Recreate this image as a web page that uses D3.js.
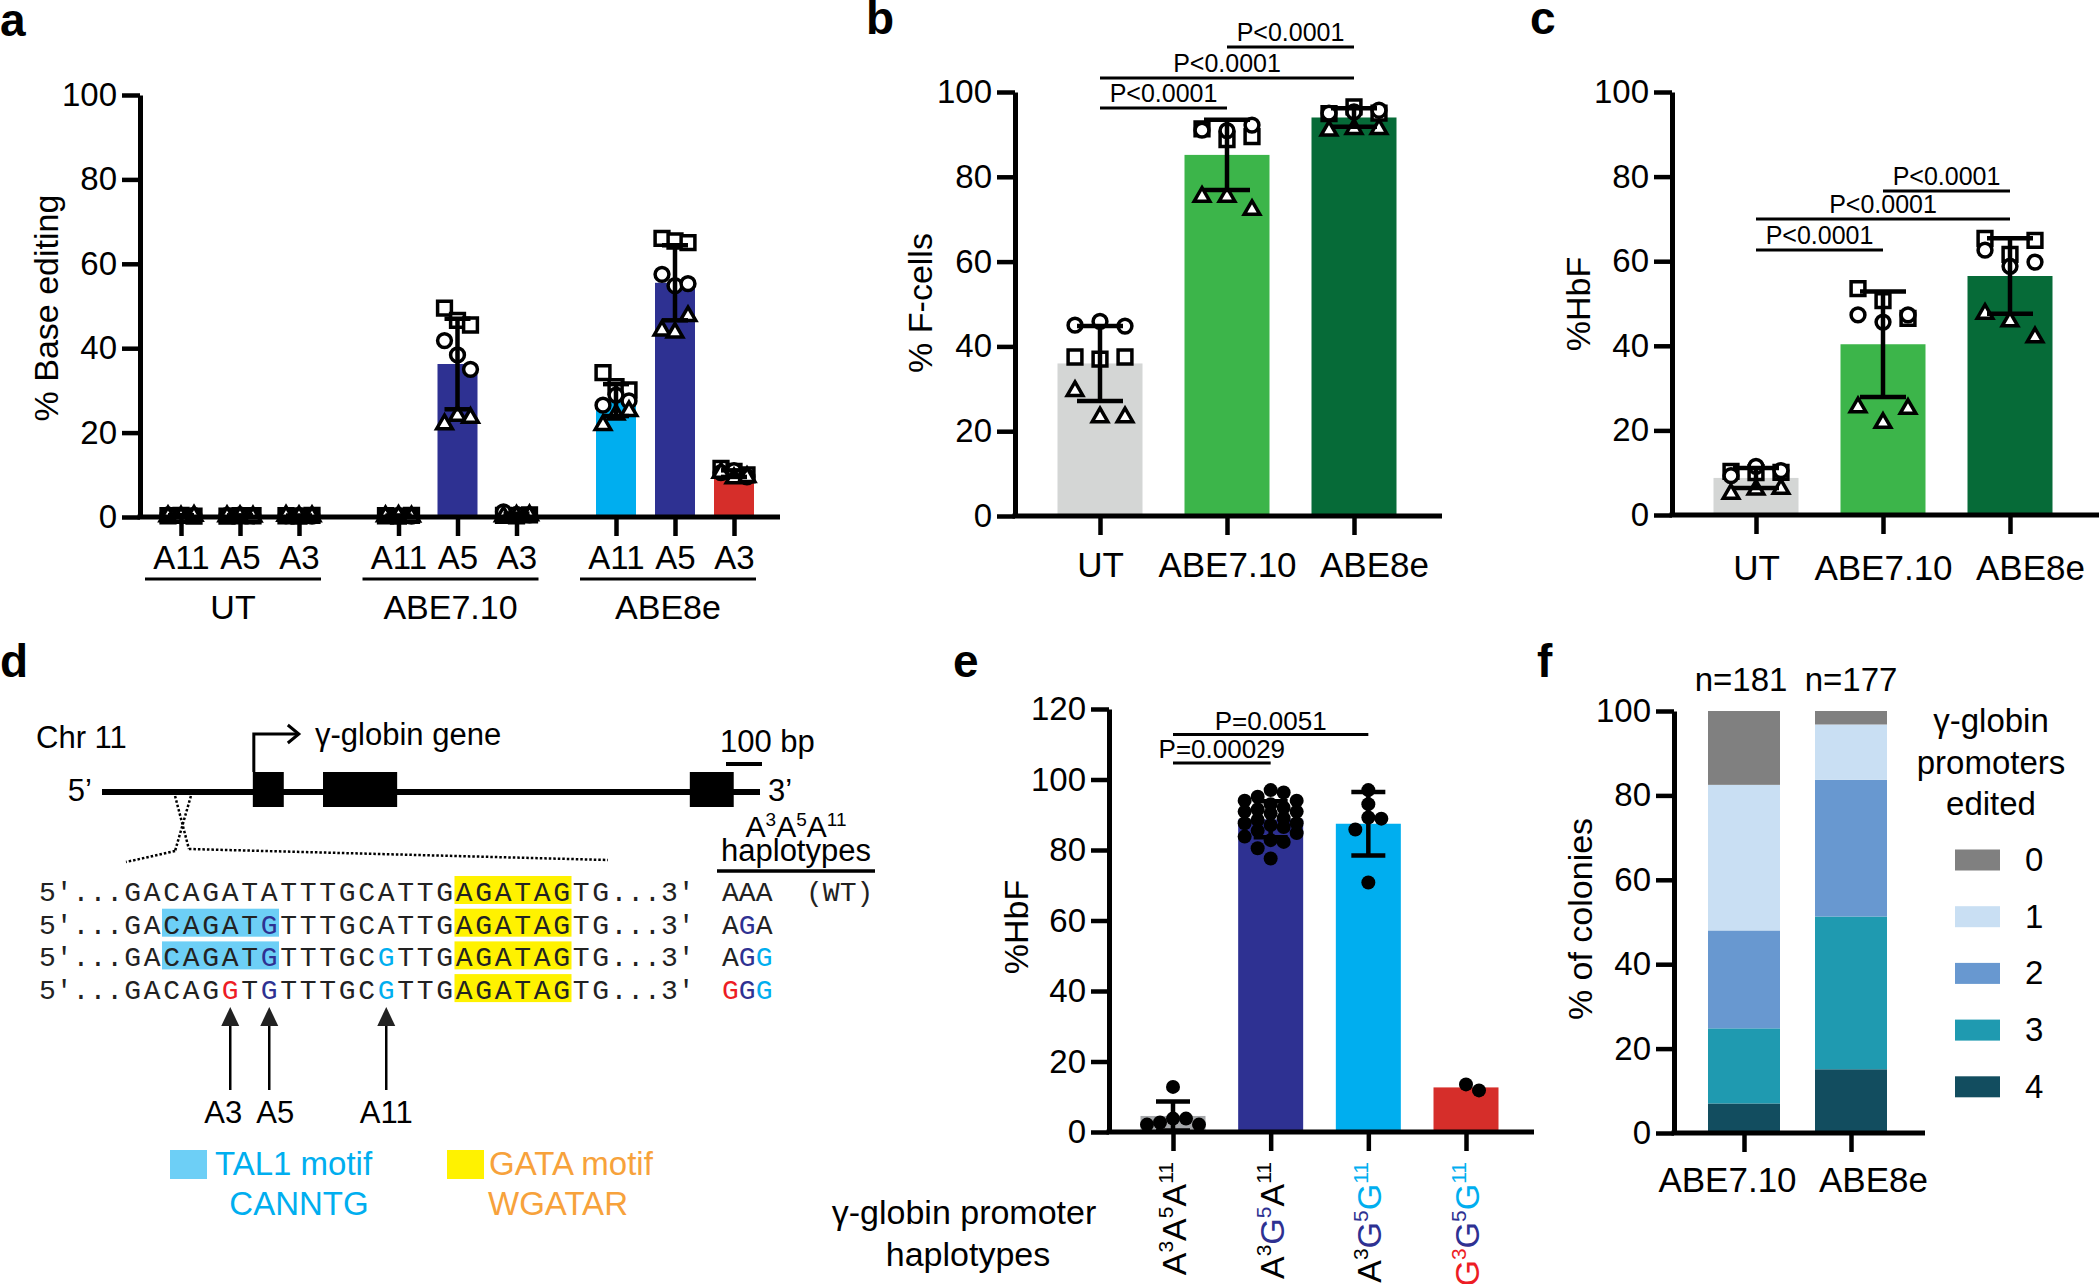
<!DOCTYPE html>
<html><head><meta charset="utf-8">
<script src="https://cdn.jsdelivr.net/npm/d3@7"></script>
<style>
body{margin:0;background:#fff}
svg{display:block}
</style>
</head><body>
<svg id="fig" width="2100" height="1284"></svg>
<script>
// ================= DATA =================
// Panel a: % base editing, [group][site] -> 3 replicate values per donor shape
const aGroups = ["UT", "ABE7.10", "ABE8e"];
const aSites = ["A11", "A5", "A3"];
const aSquares = [
  [[0.3, 0.4, 0.2], [0.2, 0.3, 0.3], [0.3, 0.2, 0.4]],
  [[0.3, 0.2, 0.4], [49.5, 46.6, 45.5], [0.4, 0.3, 0.5]],
  [[34.2, 30.9, 30.1], [66.0, 65.4, 65.0], [11.5, 10.8, 10.0]]
];
const aCircles = [
  [[0.5, 0.3, 0.4], [0.4, 0.5, 0.3], [0.3, 0.4, 0.2]],
  [[0.4, 0.3, 0.2], [41.8, 38.4, 35.0], [1.2, 0.6, 0.5]],
  [[26.5, 28.9, 27.5], [57.5, 54.8, 55.3], [10.5, 11.0, 9.5]]
];
const aTriangles = [
  [[0.2, 0.1, 0.3], [0.2, 0.2, 0.1], [0.3, 0.2, 0.2]],
  [[0.2, 0.3, 0.1], [22.0, 24.0, 23.5], [0.2, 0.3, 0.4]],
  [[21.8, 24.3, 25.1], [44.2, 43.7, 47.6], [10.5, 9.2, 9.5]]
];

// Panels b and c
const bcGroups = ["UT", "ABE7.10", "ABE8e"];
const bCircles = [[45.0, 45.9, 44.8], [91.0, 90.9, 92.2], [95.0, 95.3, 95.7]];
const bSquares = [[37.5, 37.0, 37.5], [91.3, 88.8, 89.5], [94.9, 96.5, 95.0]];
const bTriangles = [[29.5, 23.3, 23.3], [75.3, 75.3, 72.2], [90.9, 91.3, 91.3]];
const bComparisons = [["UT", "ABE7.10", "P<0.0001"], ["UT", "ABE8e", "P<0.0001"], ["ABE7.10", "ABE8e", "P<0.0001"]];

const cCircles = [[9.3, 11.5, 10.5], [47.3, 45.6, 47.3], [62.6, 58.8, 59.8]];
const cSquares = [[10.3, 10.0, 10.1], [53.5, 50.7, 46.5], [65.4, 61.6, 64.9]];
const cTriangles = [[5.0, 6.0, 6.2], [25.5, 21.8, 25.1], [47.6, 45.8, 42.0]];
const cComparisons = [["UT", "ABE7.10", "P<0.0001"], ["UT", "ABE8e", "P<0.0001"], ["ABE7.10", "ABE8e", "P<0.0001"]];

// Panel e: %HbF per colony haplotype
const eHaplotypes = ["A3A5A11", "A3G5A11", "A3G5G11", "G3G5G11"];
const eA3A5A11 = [12.8, 2.7, 3.8, 3.8, 2.1, 2.1];
const eA3G5A11 = [97.0, 96.3, 95.1, 94.0, 94.0, 93.0, 92.0, 90.9, 90.4, 90.9, 88.5, 87.6,
                  87.1, 87.6, 86.5, 85.5, 84.8, 83.8, 82.8, 82.3, 80.5, 77.6, 89.0, 91.5];
const eA3G5G11 = [89.2, 97.0, 93.0, 85.8, 88.9, 70.8];
const eG3G5G11 = [11.8, 13.5];
const eComparisons = [["A3A5A11", "A3G5A11", "P=0.00029"], ["A3A5A11", "A3G5G11", "P=0.0051"]];

// Panel f: % of colonies by number of edited promoters
const fEditors = ["ABE7.10", "ABE8e"];
const fN = [181, 177];
const fPromotersEdited = ["0", "1", "2", "3", "4"];
const fPct0 = [17.5, 3.2];
const fPct1 = [34.5, 13.1];
const fPct2 = [23.2, 32.4];
const fPct3 = [17.8, 36.2];
const fPct4 = [7.0, 15.1];

const yTicks100 = [0, 20, 40, 60, 80, 100];
const yTicks120 = [0, 20, 40, 60, 80, 100, 120];

// Panel d: gene model and promoter sequences
const dGeneLengthBp = 1828;
const dExonsBp = [[419, 505], [614, 820], [1633, 1755]];
const dZoomBp = [203, 247];
const dScaleBarBp = 100;
const dSeqRows = [
  "GACAGATATTTGCATTGAGATAGTG",
  "GACAGATGTTTGCATTGAGATAGTG",
  "GACAGATGTTTGCGTTGAGATAGTG",
  "GACAGGTGTTTGCGTTGAGATAGTG"
];
const dHaplotypes = ["AAA", "AGA", "AGG", "GGG"];
const dHaplotypeNotes = ["(WT)", "", "", ""];
const dEditSites = [{name: "A3", index: 5}, {name: "A5", index: 7}, {name: "A11", index: 13}];
const dTal1Rows = [false, true, true, false];
const dTal1Span = [2, 8];
const dGataSpan = [17, 23];

// ================= STYLE =================
const FONT = '"Liberation Sans", Arial, Helvetica, sans-serif';
const MONO = '"Liberation Mono", "DejaVu Sans Mono", monospace';
const NAVY = "#2e3192", CYAN = "#00aeef", RED = "#d62e2a", REDTXT = "#ed1c24";
const siteColor = {"3": REDTXT, "5": NAVY, "11": CYAN, "A3": REDTXT, "A5": NAVY, "A11": CYAN};

const svg = d3.select("#fig").attr("font-family", FONT);

function label(txt, x, y) {
  svg.append("text").attr("x", x).attr("y", y).attr("font-size", 46).attr("font-weight", "bold").text(txt);
}

function yAxis(g, y, x, ticks) {
  const ax = g.append("g").attr("transform", `translate(${x},0)`)
    .call(d3.axisLeft(y).tickValues(ticks).tickSize(18).tickSizeOuter(0).tickPadding(5));
  ax.select(".domain").attr("stroke", "#000").attr("stroke-width", 5);
  ax.selectAll(".tick line").attr("stroke", "#000").attr("stroke-width", 4.5);
  ax.selectAll(".tick text").attr("font-size", 33).attr("fill", "#000").attr("font-family", FONT);
  return ax;
}
function xLine(g, x0, x1, y0) {
  g.append("line").attr("x1", x0 - 2.5).attr("x2", x1).attr("y1", y0).attr("y2", y0)
    .attr("stroke", "#000").attr("stroke-width", 5);
}
function xAxis(g, scale, y0, fmt, pad, fs) {
  const ax = g.append("g").attr("transform", `translate(0,${y0})`)
    .call(d3.axisBottom(scale).tickSize(19).tickSizeOuter(0).tickPadding(pad).tickFormat(fmt || (d => d)));
  ax.select(".domain").remove();
  ax.selectAll(".tick line").attr("stroke", "#000").attr("stroke-width", 4.5);
  if (fmt === null) ax.selectAll(".tick text").remove();
  else ax.selectAll(".tick text").attr("font-size", fs).attr("fill", "#000").attr("font-family", FONT);
  return ax;
}
function yTitle(g, txt, x, y) {
  g.append("text").attr("transform", `translate(${x},${y}) rotate(-90)`)
    .attr("text-anchor", "middle").attr("font-size", 34).text(txt);
}
function errBar(g, x, y, m, sd, hw) {
  const lo = Math.max(0, m - sd), hi = m + sd;
  g.append("line").attr("x1", x).attr("x2", x).attr("y1", y(lo)).attr("y2", y(hi))
    .attr("stroke", "#000").attr("stroke-width", 4.5);
  [lo, hi].forEach(v => g.append("line").attr("x1", x - hw).attr("x2", x + hw)
    .attr("y1", y(v)).attr("y2", y(v)).attr("stroke", "#000").attr("stroke-width", 4.5));
}
const SHAPES = [
  {type: d3.symbolSquare, size: 190},
  {type: d3.symbolCircle, size: 150},
  {type: d3.symbolTriangle, size: 105}
];
function shapes(g, xc, y, sets, step) {
  sets.forEach((vals, si) => {
    vals.forEach((v, i) => {
      g.append("path").attr("d", d3.symbol().type(SHAPES[si].type).size(SHAPES[si].size)())
        .attr("transform", `translate(${xc + (i - 1) * step},${y(v)})`)
        .attr("fill", "#fff").attr("stroke", "#000").attr("stroke-width", 3.5);
    });
  });
}
function bracket(g, x0, x1, yy, txt, fs, off) {
  g.append("line").attr("x1", x0).attr("x2", x1).attr("y1", yy).attr("y2", yy)
    .attr("stroke", "#000").attr("stroke-width", 3);
  g.append("text").attr("x", (x0 + x1) / 2).attr("y", yy - off).attr("text-anchor", "middle")
    .attr("font-size", fs).text(txt);
}
// haplotype name such as "A3G5G11" -> letters with superscript positions; G coloured by site
function haploText(t, name, fs, fsSup, colourise) {
  const parts = [...name.matchAll(/([AG])(\d+)/g)];
  const rise = fs * 0.38;
  parts.forEach((p, k) => {
    const col = (colourise && p[1] === "G") ? siteColor[p[2]] : "#000";
    t.append("tspan").attr("fill", col).attr("font-size", fs).attr("dy", k === 0 ? 0 : rise).text(p[1]);
    t.append("tspan").attr("fill", col).attr("font-size", fsSup).attr("dy", -rise).text(p[2]);
  });
  return t;
}

// ================= PANEL a =================
(function () {
  const g = svg.append("g");
  const y = d3.scaleLinear([0, 100], [517, 95]);
  const gx = d3.scalePoint(aGroups, [240, 675]);
  const sx = d3.scalePoint(aSites, [-59, 59]);
  const keys = [], pos = [];
  aGroups.forEach(gr => aSites.forEach(s => { keys.push(gr + "|" + s); pos.push(gx(gr) + sx(s)); }));
  const x = d3.scaleOrdinal(keys, pos);
  const siteFill = {A11: CYAN, A5: NAVY, A3: RED};
  const bw = 40;

  aGroups.forEach((gr, gi) => aSites.forEach((s, si) => {
    const all = [...aSquares[gi][si], ...aCircles[gi][si], ...aTriangles[gi][si]];
    const m = d3.mean(all);
    g.append("rect").attr("x", x(gr + "|" + s) - bw / 2).attr("y", y(m)).attr("width", bw)
      .attr("height", y(0) - y(m)).attr("fill", siteFill[s]);
  }));
  aGroups.forEach((gr, gi) => aSites.forEach((s, si) => {
    shapes(g, x(gr + "|" + s), y, [aSquares[gi][si], aCircles[gi][si], aTriangles[gi][si]], 13);
  }));
  aGroups.forEach((gr, gi) => aSites.forEach((s, si) => {
    const all = [...aSquares[gi][si], ...aCircles[gi][si], ...aTriangles[gi][si]];
    errBar(g, x(gr + "|" + s), y, d3.mean(all), d3.deviation(all), 13);
  }));

  yAxis(g, y, 140, yTicks100);
  xLine(g, 140, 780, 517);
  xAxis(g, x, 517, d => d.split("|")[1], 10, 33);
  aGroups.forEach(gr => {
    const c = gx(gr) - 7;
    g.append("line").attr("x1", c - 88).attr("x2", c + 88).attr("y1", 579).attr("y2", 579)
      .attr("stroke", "#000").attr("stroke-width", 3);
    g.append("text").attr("x", c).attr("y", 619).attr("text-anchor", "middle").attr("font-size", 34).text(gr);
  });
  yTitle(g, "% Base editing", 58, 308);
  label("a", 0, 36);
})();

// ================= PANELS b, c =================
function panelBC(opts) {
  const g = svg.append("g");
  const y = d3.scaleLinear([0, 100], [opts.y0, opts.y100]);
  const x = d3.scalePoint(bcGroups, opts.xr);
  const fills = ["#d4d6d5", "#3cb54a", "#066b38"];
  const bw = 85;
  bcGroups.forEach((gr, i) => {
    const all = [...opts.sq[i], ...opts.ci[i], ...opts.tr[i]];
    const m = d3.mean(all);
    g.append("rect").attr("x", x(gr) - bw / 2).attr("y", y(m)).attr("width", bw)
      .attr("height", y(0) - y(m)).attr("fill", fills[i]);
  });
  bcGroups.forEach((gr, i) => shapes(g, x(gr), y, [opts.sq[i], opts.ci[i], opts.tr[i]], 25));
  bcGroups.forEach((gr, i) => {
    const all = [...opts.sq[i], ...opts.ci[i], ...opts.tr[i]];
    errBar(g, x(gr), y, d3.mean(all), d3.deviation(all), 23);
  });
  yAxis(g, y, opts.ax, yTicks100);
  xLine(g, opts.ax, opts.xEnd, opts.y0);
  const xa = xAxis(g, x, opts.y0, d => d, opts.pad, 35);
  xa.selectAll(".tick text").attr("dx", (d, i) => i === 2 ? 20 : 0);
  opts.comps.forEach((c, i) => bracket(g, x(c[0]), x(c[1]), opts.levels[i], c[2], 25, 6));
  yTitle(g, opts.title, opts.tx, opts.ty);
  label(opts.letter, opts.lx, 34);
}
panelBC({y0: 516, y100: 92, xr: [1100, 1354], ax: 1015, xEnd: 1442, pad: 17,
  sq: bSquares, ci: bCircles, tr: bTriangles, comps: bComparisons, levels: [108, 78, 47],
  title: "% F-cells", tx: 932, ty: 303, letter: "b", lx: 866});
panelBC({y0: 515, y100: 92, xr: [1756, 2010], ax: 1672, xEnd: 2099, pad: 21,
  sq: cSquares, ci: cCircles, tr: cTriangles, comps: cComparisons, levels: [250, 219, 191],
  title: "%HbF", tx: 1590, ty: 304, letter: "c", lx: 1530});

// ================= PANEL d =================
(function () {
  const g = svg.append("g").attr("font-family", FONT);
  const bp = d3.scaleLinear([0, dGeneLengthBp], [102, 760]);
  const lineY = 792;
  g.append("text").attr("x", 36).attr("y", 748).attr("font-size", 31).text("Chr 11");
  g.append("line").attr("x1", bp(0)).attr("x2", bp(dGeneLengthBp)).attr("y1", lineY).attr("y2", lineY)
    .attr("stroke", "#000").attr("stroke-width", 6);
  dExonsBp.forEach(e => g.append("rect").attr("x", bp(e[0])).attr("y", lineY - 20)
    .attr("width", bp(e[1]) - bp(e[0])).attr("height", 35).attr("fill", "#000"));
  g.append("text").attr("x", 92).attr("y", 801).attr("text-anchor", "end").attr("font-size", 31).text("5’");
  g.append("text").attr("x", 768).attr("y", 801).attr("font-size", 31).text("3’");
  // promoter arrow
  const ax0 = bp(dExonsBp[0][0]) + 1;
  g.append("path").attr("d", `M${ax0},${lineY - 20}V734H${ax0 + 44}`).attr("fill", "none")
    .attr("stroke", "#000").attr("stroke-width", 3);
  g.append("path").attr("d", `M${ax0 + 34},725L${ax0 + 45},734L${ax0 + 34},743`).attr("fill", "none")
    .attr("stroke", "#000").attr("stroke-width", 3);
  g.append("text").attr("x", 315).attr("y", 745).attr("font-size", 31).text("γ-globin gene");
  // scale bar
  g.append("text").attr("x", 720).attr("y", 752).attr("font-size", 31).text("100 bp");
  g.append("line").attr("x1", 726).attr("x2", 726 + bp(dScaleBarBp) - bp(0)).attr("y1", 764).attr("y2", 764)
    .attr("stroke", "#000").attr("stroke-width", 4);
  // zoom dotted lines
  const zx0 = bp(dZoomBp[0]), zx1 = bp(dZoomBp[1]);
  const dl = (x1, y1, x2, y2) => g.append("line").attr("x1", x1).attr("y1", y1).attr("x2", x2).attr("y2", y2)
    .attr("stroke", "#000").attr("stroke-width", 2.5).attr("stroke-dasharray", "2.5,2");
  dl(zx0, 796, zx1 - 2, 849);
  dl(zx1, 796, zx0, 851);
  dl(zx0, 851, 126, 862);
  dl(zx1 - 2, 849, 608, 860);

  // sequences
  const x0 = 123, cw = 19.5, base0 = 901, rowH = 32.7;
  const sx = i => x0 + i * cw;
  dSeqRows.forEach((row, r) => {
    const by = base0 + r * rowH;
    if (dTal1Rows[r]) g.append("rect").attr("x", sx(dTal1Span[0])).attr("y", by - 25)
      .attr("width", sx(dTal1Span[1]) - sx(dTal1Span[0])).attr("height", 28).attr("fill", "#6dcff6");
    g.append("rect").attr("x", sx(dGataSpan[0])).attr("y", by - 25)
      .attr("width", sx(dGataSpan[1]) - sx(dGataSpan[0])).attr("height", 28).attr("fill", "#fff200");
    g.append("text").attr("x", x0).attr("y", by).attr("text-anchor", "end").attr("font-family", MONO)
      .attr("font-size", 28).attr("fill", "#222").text("5′...");
    row.split("").forEach((ch, i) => {
      const site = dEditSites.find(s => s.index === i);
      const col = (site && ch === "G") ? siteColor[site.name] : "#222";
      g.append("text").attr("x", sx(i) + cw / 2).attr("y", by).attr("text-anchor", "middle")
        .attr("font-family", MONO).attr("font-size", 28).attr("fill", col).text(ch);
    });
    g.append("text").attr("x", sx(row.length)).attr("y", by).attr("font-family", MONO)
      .attr("font-size", 28).attr("fill", "#222").text("...3′");
    const ht = g.append("text").attr("x", 722).attr("y", by).attr("font-family", MONO)
      .attr("font-size", 28).attr("fill", "#222");
    dHaplotypes[r].split("").forEach((ch, k) => {
      ht.append("tspan").attr("fill", ch === "G" ? siteColor[dEditSites[k].name] : "#222").text(ch);
    });
    if (dHaplotypeNotes[r]) ht.append("tspan").text("\u00a0\u00a0" + dHaplotypeNotes[r]);
  });
  // haplotype header
  const hh = g.append("text").attr("x", 796).attr("y", 837).attr("text-anchor", "middle").attr("font-size", 30);
  haploText(hh, dEditSites.map(s => s.name).join(""), 30, 19, false);
  g.append("text").attr("x", 796).attr("y", 861).attr("text-anchor", "middle").attr("font-size", 31).text("haplotypes");
  g.append("line").attr("x1", 717).attr("x2", 875).attr("y1", 871).attr("y2", 871)
    .attr("stroke", "#000").attr("stroke-width", 3.5);
  // arrows
  const labDx = [-7, 6, 0];
  dEditSites.forEach((s, k) => {
    const xa = sx(s.index) + cw / 2;
    g.append("line").attr("x1", xa).attr("x2", xa).attr("y1", 1090).attr("y2", 1022)
      .attr("stroke", "#000").attr("stroke-width", 2.5);
    g.append("path").attr("d", `M${xa},1007L${xa + 9},1026L${xa - 9},1026Z`).attr("fill", "#222");
    g.append("text").attr("x", xa + labDx[k]).attr("y", 1123).attr("text-anchor", "middle")
      .attr("font-size", 31).text(s.name);
  });
  // motif legend
  g.append("rect").attr("x", 170).attr("y", 1150).attr("width", 37).attr("height", 29).attr("fill", "#6dcff6");
  g.append("text").attr("x", 215).attr("y", 1175).attr("font-size", 33).attr("fill", CYAN).text("TAL1 motif");
  g.append("text").attr("x", 299).attr("y", 1215).attr("text-anchor", "middle").attr("font-size", 33).attr("fill", CYAN).text("CANNTG");
  g.append("rect").attr("x", 447).attr("y", 1150).attr("width", 37).attr("height", 29).attr("fill", "#fff200");
  g.append("text").attr("x", 489).attr("y", 1175).attr("font-size", 33).attr("fill", "#f7a23b").text("GATA motif");
  g.append("text").attr("x", 558).attr("y", 1215).attr("text-anchor", "middle").attr("font-size", 33).attr("fill", "#f7a23b").text("WGATAR");
  label("d", 0, 677);
})();

// ================= PANEL e =================
function dodge(values, y, step, minD, maxOff) {
  const order = d3.range(values.length).sort((a, b) => values[b] - values[a]);
  const placed = [], off = new Array(values.length);
  const cands = [0];
  for (let k = 1; k * step <= maxOff + 0.01; k++) cands.push(k * step, -k * step);
  order.forEach(i => {
    const yy = y(values[i]);
    let best = null, bestD = -1;
    for (const c of cands) {
      const d = placed.length ? d3.min(placed, p => Math.hypot(p[0] - c, p[1] - yy)) : Infinity;
      if (d >= minD) { best = c; break; }
      if (d > bestD) { bestD = d; best = c; }
    }
    off[i] = best; placed.push([best, yy]);
  });
  return off;
}
(function () {
  const g = svg.append("g");
  const y = d3.scaleLinear([0, 120], [1132, 709]);
  const x = d3.scalePoint(eHaplotypes, [1173, 1466]);
  const fills = ["#a6a8ab", NAVY, CYAN, RED];
  const sets = [eA3A5A11, eA3G5A11, eA3G5G11, eG3G5G11];
  const bw = 65;
  sets.forEach((vals, i) => {
    const m = d3.mean(vals);
    g.append("rect").attr("x", x(eHaplotypes[i]) - bw / 2).attr("y", y(m)).attr("width", bw)
      .attr("height", y(0) - y(m)).attr("fill", fills[i]);
  });
  sets.forEach((vals, i) => {
    const off = dodge(vals, y, 13, 13, 28);
    vals.forEach((v, k) => g.append("circle").attr("cx", x(eHaplotypes[i]) + off[k]).attr("cy", y(v))
      .attr("r", 7).attr("fill", "#000"));
  });
  sets.forEach((vals, i) => {
    if (vals.length > 2) errBar(g, x(eHaplotypes[i]), y, d3.mean(vals), d3.deviation(vals), 17);
  });
  yAxis(g, y, 1109, yTicks120);
  xLine(g, 1109, 1534, 1132);
  xAxis(g, x, 1132, null, 4, 10);
  eHaplotypes.forEach(h => {
    const t = g.append("text").attr("text-anchor", "end")
      .attr("transform", `translate(${x(h) + 13},1162) rotate(-90)`);
    haploText(t, h, 34, 21, true);
  });
  eComparisons.forEach((c, i) => bracket(g, x(c[0]), x(c[1]), [763, 734.5][i], c[2], 26, 5));
  yTitle(g, "%HbF", 1028, 927);
  g.append("text").attr("x", 964).attr("y", 1224).attr("text-anchor", "middle").attr("font-size", 34).text("γ-globin promoter");
  g.append("text").attr("x", 968).attr("y", 1266).attr("text-anchor", "middle").attr("font-size", 34).text("haplotypes");
  label("e", 953, 677);
})();

// ================= PANEL f =================
(function () {
  const g = svg.append("g");
  const y = d3.scaleLinear([0, 100], [1133, 711]);
  const x = d3.scalePoint(fEditors, [1744, 1851]);
  const colors = {"0": "#808080", "1": "#c9dff3", "2": "#6898d0", "3": "#1f9ab0", "4": "#124d5f"};
  const pcts = {"0": fPct0, "1": fPct1, "2": fPct2, "3": fPct3, "4": fPct4};
  const rows = fEditors.map((e, i) => {
    const r = {editor: e};
    fPromotersEdited.forEach(k => r[k] = pcts[k][i]);
    return r;
  });
  const stack = d3.stack().keys(["4", "3", "2", "1", "0"])(rows);
  const bw = 72;
  stack.forEach(layer => layer.forEach(d => {
    g.append("rect").attr("x", x(d.data.editor) - bw / 2).attr("y", y(d[1]))
      .attr("width", bw).attr("height", y(d[0]) - y(d[1])).attr("fill", colors[layer.key]);
  }));
  yAxis(g, y, 1674, yTicks100);
  xLine(g, 1674, 1925, 1133);
  const ax = xAxis(g, x, 1133, d => d, 15, 35);
  ax.selectAll(".tick text").attr("dx", (d, i) => i === 0 ? -17 : 22);
  fEditors.forEach((e, i) => g.append("text").attr("x", x(e) - (i === 0 ? 3 : 0)).attr("y", 691)
    .attr("text-anchor", "middle").attr("font-size", 33).text("n=" + fN[i]));
  yTitle(g, "% of colonies", 1592, 919);
  ["γ-globin", "promoters", "edited"].forEach((t, i) =>
    g.append("text").attr("x", 1991).attr("y", [732, 773.5, 814.5][i]).attr("text-anchor", "middle")
      .attr("font-size", 33).text(t));
  fPromotersEdited.forEach((k, i) => {
    const cy = 860 + i * 56.7;
    g.append("rect").attr("x", 1955).attr("y", cy - 10.5).attr("width", 45).attr("height", 21).attr("fill", colors[k]);
    g.append("text").attr("x", 2025).attr("y", cy + 11).attr("font-size", 33).text(k);
  });
  label("f", 1537, 677);
})();
</script>
</body></html>
